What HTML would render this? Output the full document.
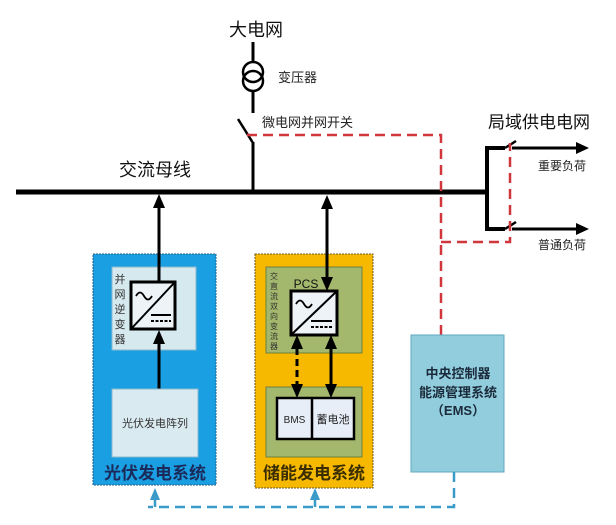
<!DOCTYPE html>
<html><head><meta charset="utf-8"><style>
html,body{margin:0;padding:0;background:#fff;}
svg{display:block;}
text{font-family:"Liberation Sans","Noto Sans CJK SC",sans-serif;}
</style></head><body>
<svg width="616" height="525" viewBox="0 0 616 525" xmlns="http://www.w3.org/2000/svg">
<rect width="616" height="525" fill="#fff"/>

<!-- Grid / transformer -->
<text x="256" y="36" font-size="18" text-anchor="middle" fill="#111">大电网</text>
<line x1="253" y1="42" x2="253" y2="62" stroke="#000" stroke-width="3"/>
<circle cx="253" cy="72" r="10" fill="none" stroke="#000" stroke-width="2.5"/>
<circle cx="253" cy="81" r="10" fill="none" stroke="#000" stroke-width="2.5"/>
<line x1="253" y1="91" x2="253" y2="113" stroke="#000" stroke-width="3"/>
<text x="278" y="82" font-size="13" fill="#222">变压器</text>
<line x1="238" y1="119" x2="253" y2="143" stroke="#000" stroke-width="2.5"/>
<line x1="253" y1="142" x2="253" y2="192" stroke="#000" stroke-width="3"/>
<text x="262" y="127" font-size="13" fill="#222">微电网并网开关</text>

<!-- Bus -->
<text x="119" y="176" font-size="18" fill="#111">交流母线</text>
<line x1="16" y1="192" x2="489" y2="192" stroke="#000" stroke-width="5"/>

<!-- Right branch -->
<text x="488" y="128" font-size="17" fill="#111">局域供电电网</text>
<polyline points="505,148 487,148 487,229 505,229" fill="none" stroke="#000" stroke-width="4"/>
<line x1="505" y1="148" x2="516" y2="141" stroke="#000" stroke-width="2.5"/>
<line x1="505" y1="229" x2="516" y2="222" stroke="#000" stroke-width="2.5"/>
<line x1="512" y1="148" x2="578" y2="148" stroke="#000" stroke-width="3"/>
<polygon points="589,148 576,142 576,154" fill="#000"/>
<line x1="512" y1="229" x2="578" y2="229" stroke="#000" stroke-width="3"/>
<polygon points="589,229 576,223 576,235" fill="#000"/>
<text x="538" y="170" font-size="12" fill="#222">重要负荷</text>
<text x="538" y="249" font-size="12" fill="#222">普通负荷</text>

<!-- Red dashed control -->
<polyline points="247,135 441,135 441,335" fill="none" stroke="#d0363c" stroke-width="2.5" stroke-dasharray="10,6"/>
<polyline points="441,242 510,242 510,143" fill="none" stroke="#d0363c" stroke-width="2.5" stroke-dasharray="10,6"/>

<!-- PV system -->
<rect x="93" y="254" width="123" height="231" fill="#1a9fe3" stroke="#1f5f8a" stroke-width="1" stroke-dasharray="2,1"/>
<rect x="112" y="267" width="84" height="83" fill="#d5e9ef" stroke="#8ab8cc" stroke-width="1"/>
<g font-size="11" fill="#333" text-anchor="middle">
<text x="120" y="283">并</text><text x="120" y="298">网</text><text x="120" y="313">逆</text><text x="120" y="328">变</text><text x="120" y="343">器</text>
</g>
<rect x="131" y="282" width="44" height="47" fill="#eef3f8" stroke="#000" stroke-width="3"/>
<line x1="131" y1="329" x2="175" y2="282" stroke="#000" stroke-width="2"/>
<path d="M136,296 q4,-7 8,0 t8,0" fill="none" stroke="#000" stroke-width="1.8"/>
<line x1="151" y1="315" x2="171" y2="315" stroke="#000" stroke-width="2"/>
<line x1="151" y1="321" x2="171" y2="321" stroke="#000" stroke-width="2" stroke-dasharray="3,1.5"/>
<line x1="159" y1="206" x2="159" y2="282" stroke="#000" stroke-width="3"/>
<polygon points="159,194 153,208 165,208" fill="#000"/>
<line x1="159" y1="342" x2="159" y2="389" stroke="#000" stroke-width="3"/>
<polygon points="159,330 153,344 165,344" fill="#000"/>
<rect x="112" y="389" width="86" height="68" fill="#d9ebf1" stroke="#8ab8cc" stroke-width="1"/>
<text x="155" y="427" font-size="11" fill="#333" text-anchor="middle">光伏发电阵列</text>
<text x="155" y="479" font-size="17" font-weight="bold" fill="#1a2a5a" text-anchor="middle">光伏发电系统</text>

<!-- Storage system -->
<rect x="255" y="254" width="118" height="234" fill="#f7b900" stroke="#6a5a20" stroke-width="1" stroke-dasharray="2,1"/>
<rect x="266" y="267" width="96" height="86" fill="#a3b86c" stroke="#6f7f3a" stroke-width="1"/>
<g font-size="8" fill="#333" text-anchor="middle">
<text x="274" y="279">交</text><text x="274" y="289">直</text><text x="274" y="299">流</text><text x="274" y="309">双</text><text x="274" y="319">向</text><text x="274" y="329">变</text><text x="274" y="339">流</text><text x="274" y="349">器</text>
</g>
<text x="306" y="288" font-size="12" fill="#111" text-anchor="middle">PCS</text>
<rect x="291" y="291" width="46" height="44" fill="#eef3f8" stroke="#000" stroke-width="3"/>
<line x1="291" y1="335" x2="337" y2="291" stroke="#000" stroke-width="2"/>
<path d="M296,304 q4,-7 8,0 t8,0" fill="none" stroke="#000" stroke-width="1.8"/>
<line x1="311" y1="321" x2="332" y2="321" stroke="#000" stroke-width="2"/>
<line x1="311" y1="327" x2="332" y2="327" stroke="#000" stroke-width="2" stroke-dasharray="3,1.5"/>
<line x1="327" y1="207" x2="327" y2="279" stroke="#000" stroke-width="3"/>
<polygon points="327,195 321,209 333,209" fill="#000"/>
<polygon points="327,291 321,277 333,277" fill="#000"/>

<rect x="266" y="387" width="96" height="70" fill="#a3b86c" stroke="#6f7f3a" stroke-width="1"/>
<line x1="297" y1="348" x2="297" y2="386" stroke="#000" stroke-width="3" stroke-dasharray="7,4"/>
<polygon points="297,335 291,349 303,349" fill="#000"/>
<polygon points="297,398 291,384 303,384" fill="#000"/>
<line x1="331" y1="348" x2="331" y2="386" stroke="#000" stroke-width="3"/>
<polygon points="331,335 325,349 337,349" fill="#000"/>
<polygon points="331,398 325,384 337,384" fill="#000"/>
<rect x="277" y="398" width="77" height="41" fill="#e8eef8" stroke="#000" stroke-width="2.5"/>
<line x1="312" y1="398" x2="312" y2="439" stroke="#000" stroke-width="2.5"/>
<text x="294.5" y="423" font-size="10" fill="#222" text-anchor="middle" font-family="Liberation Serif,serif">BMS</text>
<text x="333" y="423" font-size="11" fill="#222" text-anchor="middle">蓄电池</text>
<text x="314" y="479" font-size="17" font-weight="bold" fill="#3a2e00" text-anchor="middle">储能发电系统</text>

<!-- EMS -->
<rect x="411" y="335" width="93" height="137" fill="#92cddd" stroke="#5fa8c0" stroke-width="1"/>
<g font-size="13" fill="#1a2a3a" text-anchor="middle" font-weight="bold">
<text x="458" y="378">中央控制器</text>
<text x="458" y="397">能源管理系统</text>
<text x="458" y="415">（EMS）</text>
</g>

<!-- Blue dashed -->
<polyline points="454,472 454,507 148,507" fill="none" stroke="#3a9bc8" stroke-width="2.5" stroke-dasharray="10,6"/>
<line x1="155" y1="499" x2="155" y2="507" stroke="#3a9bc8" stroke-width="2.5"/>
<polygon points="155,488 150,500 160,500" fill="#3a9bc8"/>
<line x1="315" y1="499" x2="315" y2="507" stroke="#3a9bc8" stroke-width="2.5"/>
<polygon points="315,488 310,500 320,500" fill="#3a9bc8"/>
</svg>
</body></html>
